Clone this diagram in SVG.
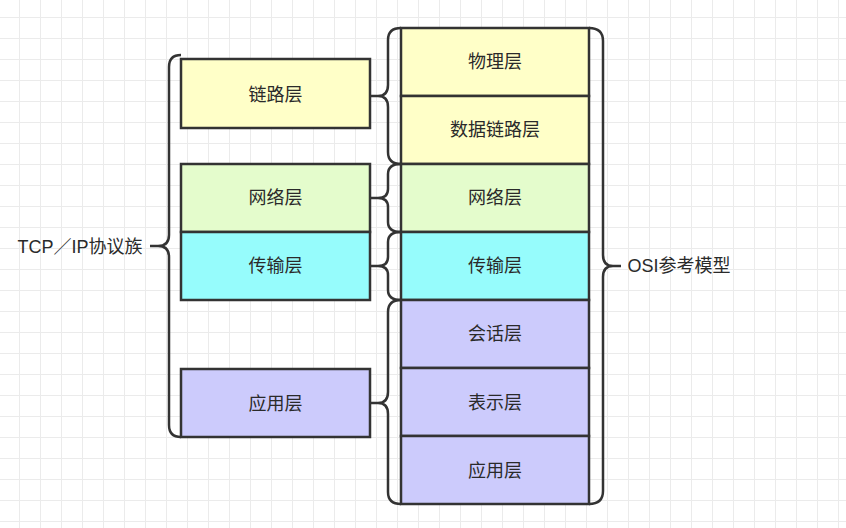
<svg xmlns="http://www.w3.org/2000/svg" width="846" height="528" viewBox="0 0 846 528">
<defs>
<pattern id="grid" x="19" y="17" width="21" height="21" patternUnits="userSpaceOnUse">
<path d="M0.5,0 V21 M0,0.5 H21" fill="none" stroke="#ebebeb" stroke-width="1"/>
</pattern>
<style>
.box{stroke:#333;stroke-width:2.5}
.y{fill:#ffffc8}
.g{fill:#e4fccc}
.c{fill:#96fcfc}
.p{fill:#cccbfc}
.br{fill:none;stroke:#333;stroke-width:2.5;stroke-linejoin:round}
text{font-family:"Liberation Sans","Noto Sans CJK SC",sans-serif;font-size:18px;fill:#2a2a2a;text-anchor:middle;dominant-baseline:central}
</style>
</defs>
<rect width="846" height="528" fill="#ffffff"/>
<rect width="846" height="528" fill="url(#grid)"/>

<g id="tcp-link"><rect class="box y" x="181" y="59" width="189" height="69"/><text x="275.5" y="95">链路层</text></g>
<g id="tcp-network"><rect class="box g" x="181" y="164" width="189" height="68"/><text x="275.5" y="198">网络层</text></g>
<g id="tcp-transport"><rect class="box c" x="181" y="232" width="189" height="68"/><text x="275.5" y="266">传输层</text></g>
<g id="tcp-app"><rect class="box p" x="181" y="369" width="189" height="68"/><text x="275.5" y="404">应用层</text></g>

<g id="osi-physical"><rect class="box y" x="401" y="28" width="188" height="68"/><text x="495" y="62">物理层</text></g>
<g id="osi-datalink"><rect class="box y" x="401" y="96" width="188" height="68"/><text x="495" y="130">数据链路层</text></g>
<g id="osi-network"><rect class="box g" x="401" y="164" width="188" height="68"/><text x="495" y="198">网络层</text></g>
<g id="osi-transport"><rect class="box c" x="401" y="232" width="188" height="68"/><text x="495" y="266">传输层</text></g>
<g id="osi-session"><rect class="box p" x="401" y="300" width="188" height="68"/><text x="495" y="334">会话层</text></g>
<g id="osi-presentation"><rect class="box p" x="401" y="368" width="188" height="68"/><text x="495" y="403">表示层</text></g>
<g id="osi-app"><rect class="box p" x="401" y="436" width="188" height="68"/><text x="495" y="471">应用层</text></g>

<g id="label-tcp"><text x="80" y="247">TCP／IP协议族</text></g>
<g id="label-osi"><text x="679" y="266">OSI参考模型</text></g>

<g id="connectors">
<path class="br" d="M181,55 Q169,55 169,67 L169,235 Q169,246 158,246 L150,246 M158,246 Q169,246 169,257 L169,425 Q169,437 181,437"/>
<path class="br" d="M401,28 Q388,28 388,40 L388,85 Q388,96 378,96 L370,96 M378,96 Q388,96 388,107 L388,152 Q388,164 401,164"/>
<path class="br" d="M401,164 Q388,164 388,174 L388,189 Q388,198 378,198 L370,198 M378,198 Q388,198 388,207 L388,222 Q388,232 401,232"/>
<path class="br" d="M401,232 Q388,232 388,242 L388,257 Q388,266 378,266 L370,266 M378,266 Q388,266 388,275 L388,290 Q388,300 401,300"/>
<path class="br" d="M401,300 Q388,300 388,312 L388,392 Q388,403 378,403 L370,403 M378,403 Q388,403 388,414 L388,492 Q388,504 401,504"/>
<path class="br" d="M589,28 Q603,28 603,41 L603,255 Q603,266 613,266 L621,266 M613,266 Q603,266 603,277 L603,491 Q603,504 589,504"/>
</g>
</svg>
